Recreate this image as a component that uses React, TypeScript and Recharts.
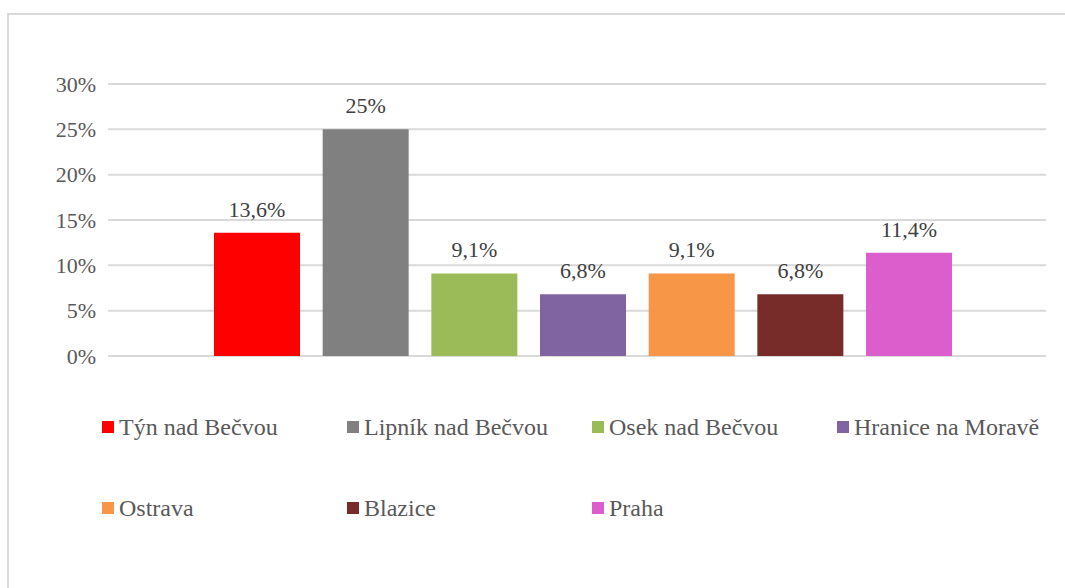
import React from "react";
import { BarChart, Bar, XAxis, YAxis, CartesianGrid, Legend, LabelList } from "recharts";

const seriesNames = [
  "Týn nad Bečvou",
  "Lipník nad Bečvou",
  "Osek nad Bečvou",
  "Hranice na Moravě",
  "Ostrava",
  "Blazice",
  "Praha",
];
const seriesValues = [13.6, 25, 9.1, 6.8, 9.1, 6.8, 11.4];
const seriesColors = ["#ff0000", "#808080", "#9bbb59", "#8064a2", "#f79646", "#772c2a", "#dc5ecd"];
const yTicks = [0, 5, 10, 15, 20, 25, 30];

const FONT = '"Liberation Serif", "Times New Roman", serif';

const row: Record<string, string | number> = { name: "" };
seriesValues.forEach((v, i) => {
  row["s" + i] = v;
});
const chartData = [row];

const pct = (v: number | string) => `${String(v).replace(".", ",")}%`;

// legend drawn as a 4-column grid, in series order
function LegendGrid() {
  return (
    <div
      style={{
        display: "grid",
        gridTemplateColumns: "repeat(4, 245px)",
        rowGap: 53,
        fontFamily: FONT,
        fontSize: 24,
        color: "#595959",
      }}
    >
      {seriesNames.map((name, i) => (
        <div key={name} style={{ display: "flex", alignItems: "center", height: 28, whiteSpace: "nowrap" }}>
          <span style={{ width: 12, height: 12, background: seriesColors[i], marginRight: 5, display: "inline-block" }} />
          {name}
        </div>
      ))}
    </div>
  );
}

export default function App() {
  return (
    <div
      style={{
        position: "fixed",
        left: 0,
        top: 0,
        width: 1065,
        height: 588,
        background: "#fff",
        overflow: "hidden",
      }}
    >
      <div
        style={{
          position: "absolute",
          left: 7,
          top: 13,
          width: 1200,
          height: 800,
          borderLeft: "2px solid #d9d9d9",
          borderTop: "2px solid #d9d9d9",
        }}
      />
      <div style={{ position: "absolute", left: 0, top: 0 }}>
        <BarChart
          width={1065}
          height={588}
          data={chartData}
          margin={{ top: 84, right: 19, left: 0, bottom: 232 }}
          barSize={86}
          barGap={22.67}
        >
          <CartesianGrid vertical={false} stroke="#d9d9d9" strokeWidth={2} />
          <XAxis dataKey="name" hide padding={{ left: 12, right: 0 }} />
          <YAxis
            width={108}
            domain={[0, 30]}
            ticks={yTicks}
            tickFormatter={pct}
            axisLine={false}
            tickLine={false}
            tickSize={0}
            tickMargin={12}
            tick={{ fontFamily: FONT, fontSize: 22, fill: "#595959" }}
          />
          <Legend
            layout="horizontal"
            verticalAlign="middle"
            align="center"
            content={<LegendGrid />}
            wrapperStyle={{ left: 102, top: 413, width: 1000, height: 120 }}
          />
          {seriesNames.map((name, i) => (
            <Bar key={name} dataKey={"s" + i} name={name} fill={seriesColors[i]} isAnimationActive={false}>
              <LabelList
                dataKey={"s" + i}
                position="top"
                offset={16}
                formatter={pct}
                style={{ fontFamily: FONT, fontSize: 22, fill: "#404040" }}
              />
            </Bar>
          ))}
        </BarChart>
      </div>
    </div>
  );
}
